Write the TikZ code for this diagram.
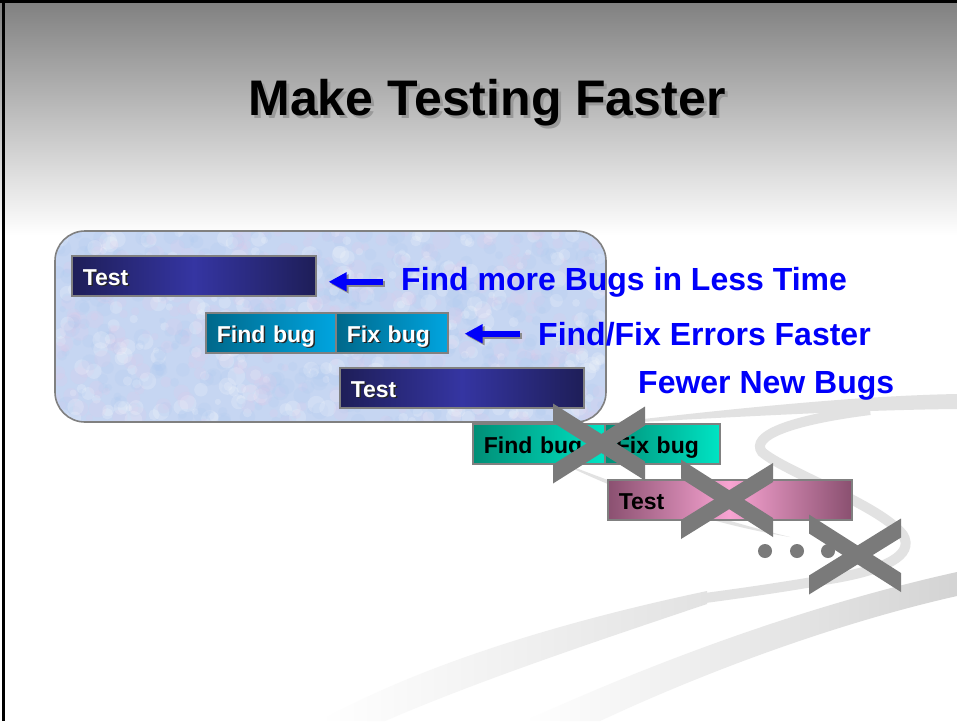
\documentclass[tikz,border=0pt]{standalone}
\usepackage{fontspec}
\setmainfont{Liberation Sans}
\usetikzlibrary{arrows.meta}

\definecolor{navyD}{RGB}{30,30,88}
\definecolor{navyL}{RGB}{53,53,162}
\definecolor{tealD}{RGB}{0,104,138}
\definecolor{tealL}{RGB}{0,165,224}
\definecolor{greenD}{RGB}{0,142,118}
\definecolor{greenL}{RGB}{0,228,196}
\definecolor{pinkD}{RGB}{138,80,112}
\definecolor{pinkL}{RGB}{248,164,210}
\definecolor{edgegray}{RGB}{128,128,128}
\definecolor{swoosh}{RGB}{226,226,226}
\definecolor{panelfill}{RGB}{198,214,242}
\definecolor{dotpink}{RGB}{228,200,232}
\definecolor{dotblue}{RGB}{172,200,240}
\definecolor{textblue}{RGB}{0,0,250}
\definecolor{xgray}{RGB}{122,122,122}

% text with a drop shadow: #1 text, #2 offset, #3 shadow colour
\newcommand\shadowed[3]{\makebox[0pt][l]{\hspace{#2}\raisebox{-#2}{\textcolor{#3}{#1}}}#1}
% one slanted bar of a cross, cut off vertically at both ends
\newcommand\crossstroke[4]{\fill[xgray] (#1,#2-9.5) -- (#3,#4-9.5) -- (#3,#4+9.5) -- (#1,#2+9.5) -- cycle;}

\tikzset{
  bar/.style={draw=edgegray, line width=1.6pt, minimum height=40pt,
    inner xsep=11pt, inner ysep=0pt, text height=19pt, text depth=0pt,
    anchor=north west, align=left, font=\bfseries\fontsize{23}{23}\selectfont},
  navybar/.style={bar, left color=navyD, right color=navyD, middle color=navyL, text=white},
  tealbar/.style={bar, left color=tealD, right color=tealL, text=white},
  greenbar/.style={bar, left color=greenD, right color=greenL, text=black},
  pinkbar/.style={bar, left color=pinkD, right color=pinkD, middle color=pinkL, text=black},
  note/.style={text=textblue, font=\bfseries\fontsize{32}{32}\selectfont,
    inner sep=0pt, anchor=base west},
  bluearrow/.style={draw=textblue, line width=6pt, -{Triangle[length=18pt,width=18pt]}},
  arrowshadow/.style={draw=black!45, line width=6pt, -{Triangle[length=18pt,width=18pt]}},
}

\begin{document}
\begin{tikzpicture}[x=1pt,y=-1pt]
\useasboundingbox (0,0) rectangle (957,721);

% slide background
\fill[white] (0,0) rectangle (957,721);
\shade[top color=black!50, bottom color=white] (0,0) rectangle (957,235);

% decorative swooshes
\fill[swoosh] (600,424) .. controls (720,410) and (850,396) .. (957,394)
  -- (957,409) .. controls (850,410) and (720,418) .. (600,424) -- cycle;
\draw[swoosh, line width=10pt] (870,410) .. controls (790,420) and (750,436) .. (762,452)
  .. controls (785,472) and (880,505) .. (903,535)
  .. controls (915,555) and (885,570) .. (830,579)
  .. controls (790,586) and (750,592) .. (705,598);
\shade[left color=white, right color=swoosh]
  (707,591) .. controls (560,622) and (420,665) .. (320,721)
  -- (385,721) .. controls (480,680) and (600,640) .. (707,604) -- cycle;
\shade[left color=white, right color=black!17]
  (957,572) .. controls (830,600) and (680,650) .. (525,721)
  -- (600,721) .. controls (720,665) and (850,620) .. (957,596) -- cycle;
\fill[swoosh] (555,460) .. controls (620,492) and (700,522) .. (790,537)
  .. controls (700,515) and (620,485) .. (555,460) -- cycle;

% frame lines
\draw[black, line width=3pt] (0,1.5) -- (957,1.5);
\draw[black, line width=3pt] (3.5,0) -- (3.5,721);

% title
\node[anchor=base, inner sep=0pt, font=\bfseries\fontsize{50}{50}\selectfont] (title)
  at (487,115) {\shadowed{Make Testing Faster}{3pt}{black!40}};

% mottled panel
\begin{scope}
  \clip[rounded corners=30pt] (55,231) rectangle (606,422);
  \fill[panelfill] (55,231) rectangle (606,422);
  \pgfmathsetseed{11}
  \foreach \i in {1,...,1100}{
    \pgfmathsetmacro\rx{55+551*rnd}
    \pgfmathsetmacro\ry{231+191*rnd}
    \pgfmathsetmacro\rr{3+6*rnd}
    \pgfmathtruncatemacro\rc{3*rnd}
    \ifnum\rc=0 \def\dotcol{dotpink}\else
      \ifnum\rc=1 \def\dotcol{dotblue}\else \def\dotcol{white}\fi
    \fi
    \fill[opacity=.18, color=\dotcol] (\rx,\ry) circle[radius=\rr pt];
  }
\end{scope}
\draw[edgegray, line width=1.6pt, rounded corners=30pt] (55,231) rectangle (606,422);

% first round
\node[navybar, minimum width=244pt, text width=222pt] (test1) at (71,255) {\shadowed{Test}{1.5pt}{black!85}};
\node[tealbar, minimum width=130pt, text width=108pt] (find1) at (205,312) {\shadowed{Find bug}{1.5pt}{black!85}};
\node[tealbar, minimum width=112pt, text width=90pt] (fix1) at (335,312) {\shadowed{Fix bug}{1.5pt}{black!85}};
\node[navybar, minimum width=244pt, text width=222pt] (test2) at (339,367) {\shadowed{Test}{1.5pt}{black!85}};

% notes and arrows
\node[note] (n1) at (401,290) {Find more Bugs in Less Time};
\node[note] (n2) at (538,345) {Find/Fix Errors Faster};
\node[note] (n3) at (638,393) {Fewer New Bugs};
\coordinate (a1) at (n1.west -| test1.east);
\coordinate (a2) at (n2.west -| fix1.east);
\draw[arrowshadow, shorten <=18pt, shorten >=12pt] ([shift={(2,2)}]n1.west) -- ([shift={(2,2)}]a1);
\draw[bluearrow, shorten <=18pt, shorten >=12pt] (n1.west) -- (a1);
\draw[arrowshadow, shorten <=18pt, shorten >=16pt] ([shift={(2,2)}]n2.west) -- ([shift={(2,2)}]a2);
\draw[bluearrow, shorten <=18pt, shorten >=16pt] (n2.west) -- (a2);

% rounds that are no longer needed
\node[greenbar, minimum width=132pt, text width=110pt] (find2) at (472,423) {Find bug};
\node[greenbar, minimum width=115pt, text width=93pt] (fix2) at (604,423) {Fix bug};
\node[pinkbar, minimum width=244pt, text width=222pt] (test3) at (607,479) {Test};

% dots
\foreach \dx in {765,797,828}
  \fill[xgray] (\dx,551) circle[radius=7pt];

% crosses
\crossstroke{553}{413}{645}{471}
\crossstroke{553}{474}{645}{416}
\crossstroke{681}{469}{773}{527.5}
\crossstroke{681}{529.5}{773}{472.5}
\crossstroke{809}{524}{901}{582.5}
\crossstroke{809}{585}{901}{528}
\end{tikzpicture}
\end{document}
